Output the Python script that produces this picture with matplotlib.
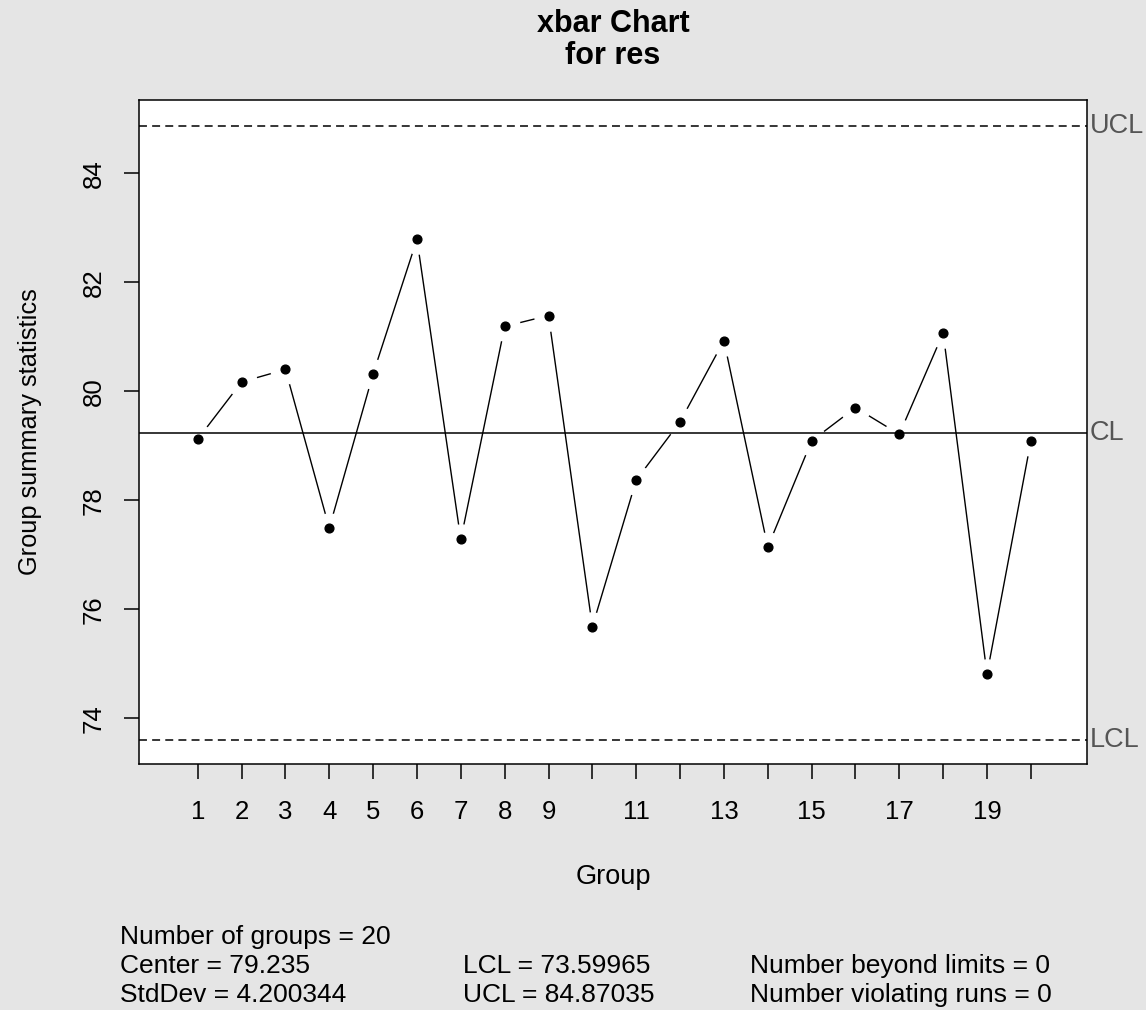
import numpy as np
import matplotlib
matplotlib.use("Agg")
import matplotlib.pyplot as plt
import matplotlib.transforms as mtransforms

plt.rcParams['font.family'] = ['Liberation Sans', 'DejaVu Sans']

# group means
groups = np.arange(1, 21)
means = [79.12, 80.17, 80.40, 77.49, 80.32, 82.79, 77.28, 81.19, 81.39, 75.68,
         78.37, 79.44, 80.93, 77.14, 79.09, 79.70, 79.21, 81.07, 74.81, 79.09]
center = 79.235
lcl = 73.59965
ucl = 84.87035
stddev = 4.200344
xtick_labels = ['1', '2', '3', '4', '5', '6', '7', '8', '9', '',
                '11', '', '13', '', '15', '', '17', '', '19', '']
ytick_vals = [74, 76, 78, 80, 82, 84]

W, H = 1146, 1010
bg = '#e5e5e5'
fig = plt.figure(figsize=(W / 100, H / 100), dpi=100, facecolor=bg)
ax = fig.add_axes([139 / W, 1 - 764 / H, 948 / W, 664 / H], facecolor='white')

# connecting line with gaps round the points (R type="b")
ax.plot(groups, means, color='black', lw=1.0, zorder=2)
ax.plot(groups, means, 'o', ms=21, mfc='white', mec='white', zorder=3)
ax.plot(groups, means, 'o', ms=6.3, mfc='black', mec='black', zorder=5)

ax.axhline(center, color='black', lw=1.1, zorder=4)
for v in (ucl, lcl):
    ln = ax.axhline(v, color='black', lw=1.1, zorder=4)
    ln.set_dashes((5.2, 3.4))

trans = mtransforms.blended_transform_factory(ax.transAxes, ax.transData)
for v, lab in ((ucl, 'UCL'), (center, 'CL'), (lcl, 'LCL')):
    ax.text(1.003, v, lab, transform=trans, ha='left', va='center',
            fontsize=19.5, color='#555555', clip_on=False)

ax.set_xlim(-0.339, 21.28)
ax.set_ylim(73.16, 85.345)
ax.set_xticks(groups)
ax.set_xticklabels(xtick_labels)
ax.set_yticks(ytick_vals)
ax.set_yticklabels([str(v) for v in ytick_vals], rotation=90, va='center')
ax.tick_params(axis='both', direction='out', length=11, width=1.1,
               labelsize=18.5, colors='black')
ax.tick_params(axis='x', pad=15)
ax.tick_params(axis='y', pad=13)
for s in ax.spines.values():
    s.set_linewidth(1.1)
    s.set_color('black')

fig.text(613 / W, 1 - 40 / H, 'xbar Chart\nfor res', ha='center', va='center',
         fontsize=22, fontweight='bold', linespacing=1.1)
fig.text(30 / W, 1 - 432 / H, 'Group summary statistics', rotation=90,
         ha='center', va='center', fontsize=18.3)
fig.text(613 / W, 1 - 877 / H, 'Group', ha='center', va='center', fontsize=19.5)

rows = [1 - 944 / H, 1 - 973 / H, 1 - 1002 / H]
fs = 19
fig.text(120 / W, rows[0], 'Number of groups = %d' % len(groups), fontsize=fs, va='baseline')
fig.text(120 / W, rows[1], 'Center = %s' % center, fontsize=fs, va='baseline')
fig.text(120 / W, rows[2], 'StdDev = %s' % stddev, fontsize=fs, va='baseline')
fig.text(463 / W, rows[1], 'LCL = %.5f' % lcl, fontsize=fs, va='baseline')
fig.text(463 / W, rows[2], 'UCL = %.5f' % ucl, fontsize=fs, va='baseline')
fig.text(750 / W, rows[1], 'Number beyond limits = 0', fontsize=fs, va='baseline')
fig.text(750 / W, rows[2], 'Number violating runs = 0', fontsize=fs, va='baseline')

fig.savefig('out.png', dpi=100, facecolor=bg)
